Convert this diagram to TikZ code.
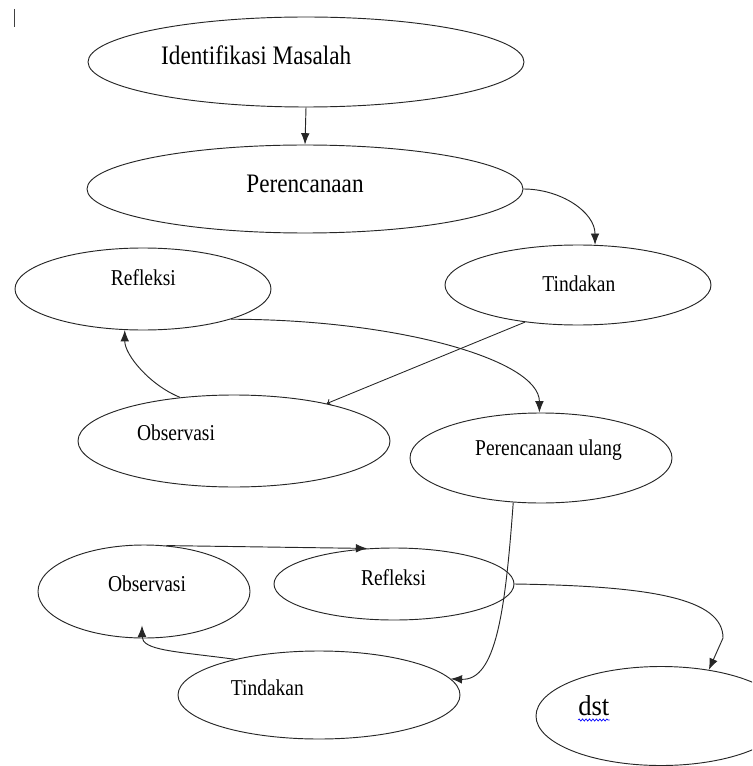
\documentclass[tikz,border=0pt]{standalone}
\usepackage{fontspec}
\setmainfont{Liberation Serif}
\usetikzlibrary{shapes.geometric,arrows.meta,calc,decorations.pathmorphing}
\begin{document}
\begin{tikzpicture}[x=0.75pt,y=-0.75pt,
  ell/.style 2 args={ellipse,draw=black!85,line width=0.7pt,minimum width=#1*0.75pt,minimum height=#2*0.75pt,inner sep=0pt},
  lbl/.style={anchor=base,inner sep=0pt,font=\fontsize{17}{20}\selectfont,xscale=0.86},
  big/.style={anchor=base,inner sep=0pt,font=\fontsize{20}{24}\selectfont,xscale=0.87},
  huge/.style={anchor=base,inner sep=0pt,font=\fontsize{21.5}{26}\selectfont,xscale=0.93},
  con/.style={draw=black!85,line width=0.7pt,-{Latex[length=8.5pt,width=6.5pt]}},
  thinarr/.style={draw=black!85,line width=0.65pt,-{To[length=3pt,width=5pt]}},
]
\useasboundingbox (0,0) rectangle (752,766);
\clip (0,0) rectangle (752,766);

% cursor mark
\draw[black!75,line width=0.8pt] (14.5,9) -- (14.5,27);

% ellipses
\node[ell={436}{90}] (idm) at (306,62) {};
\node[ell={436}{88}] (per) at (305,189) {};
\node[ell={256}{82}] (ref1) at (143,289) {};
\node[ell={266}{80}] (tin1) at (578,285) {};
\node[ell={312}{92}] (obs1) at (234,441) {};
\node[ell={262}{90}] (pu) at (541,458) {};
\node[ell={212}{93}] (obs2) at (144,591.5) {};
\node[ell={240}{72}] (ref2) at (394,584) {};
\node[ell={282}{88}] (tin2) at (319,695) {};
\node[ell={250}{99}] (dst) at (661,716) {};

% labels
\node[big] (tidm) at (256.2,64.3) {Identifikasi Masalah};
\node[big] (tper) at (305,193) {Perencanaan};
\node[lbl] (tref1) at (143.4,286) {Refleksi};
\node[lbl] (ttin1) at (578.9,291.7) {Tindakan};
\node[lbl] (tobs1) at (176,440) {Observasi};
\node[lbl] (tpu) at (548.5,455) {Perencanaan ulang};
\node[lbl] (tobs2) at (147,591.7) {Observasi};
\node[lbl] (tref2) at (393.5,585) {Refleksi};
\node[lbl] (ttin2) at (267.4,695) {Tindakan};
\node[huge] (tdst) at (593.8,715) {dst};
\draw[blue,line width=0.5pt,decorate,decoration={snake,amplitude=0.8pt,segment length=2.6pt}]
  ($(tdst.base west)+(0,5)$) -- ($(tdst.base east)+(0,5)$);

% connectors
\coordinate (k1) at (723,638);
\draw[con] (idm.south) -- (per.north);
\draw[con] (per.east) .. controls +(37,0) and +(0,-33) .. (tin1.67);
\draw[thinarr] (tin1.215) -- (obs1.22);
\draw[con] (obs1.141) .. controls +(-30,-12) and +(0,25) .. (ref1.246);
\draw[con] (ref1.-19) .. controls +(165,0) and +(0,-53) .. (pu.92);
\draw[con] (pu.238) .. controls +(-8,110) and +(45,2) .. (tin2.7);
\draw[con] (obs2.64) -- (ref2.127);
\draw[con] (tin2.157) .. controls +(-60,-8) and +(0,25) .. ($(obs2.south)+(-2,-13)$);
\draw[con] (ref2.east) .. controls +(135,2) and +(0,-40) .. (k1) -- (dst.44);
\end{tikzpicture}
\end{document}
